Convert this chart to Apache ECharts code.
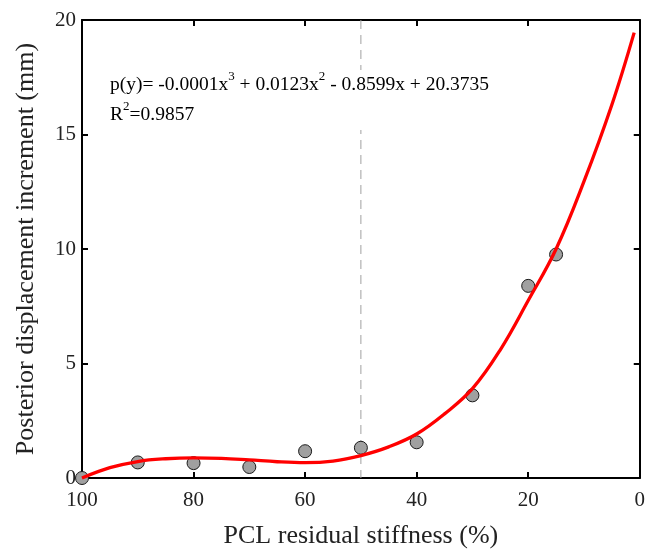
<!DOCTYPE html>
<html><head><meta charset="utf-8">
<script src="https://cdn.jsdelivr.net/npm/echarts@6/dist/echarts.min.js"></script>
<style>html,body{margin:0;padding:0;background:#fff}#c{width:648px;height:554px}</style>
</head><body><div id="c"></div>
<script>
// ---- data ----
const stiffness    = [100, 90, 80, 70, 60, 50, 40, 30, 20, 15];
const displacement = [0.0, 0.68, 0.65, 0.48, 1.17, 1.32, 1.56, 3.61, 8.39, 9.76];
const fitX = [100, 95, 90, 85, 80, 75, 70, 65, 60, 55, 50, 45, 40, 35, 30, 25, 20, 15, 10, 5, 1];
const fitY = [0.00, 0.45, 0.72, 0.84, 0.88, 0.86, 0.79, 0.71, 0.67, 0.74, 0.98, 1.36, 1.92, 2.80, 3.90, 5.60, 7.75, 10.0, 12.95, 16.3, 19.45];
const refX = [50, 50];
const refY = [20, 0];
const xName = 'PCL residual stiffness (%)';
const yName = 'Posterior displacement increment (mm)';
const eqText = '{n|p(y)= -0.0001x}{s|3}{n| + 0.0123x}{s|2}{n| - 0.8599x + 20.3735}\n{n|R}{s|2}{n|=0.9857}';

const FONT = 'Liberation Serif';
const TXT = '#222';
const zip = (a, b) => a.map((v, i) => [v, b[i]]);

const axLine = {show: true, onZero: false, lineStyle: {color: '#000', width: 2}};
const axTick = {show: true, inside: true, length: 6, lineStyle: {color: '#000', width: 2}};

const chart = echarts.init(document.getElementById('c'), null, {renderer: 'canvas'});
chart.setOption({
  animation: false,
  backgroundColor: '#fff',
  grid: {left: 82, right: 7, top: 20, bottom: 73},
  xAxis: [
    {type: 'value', min: 0, max: 100, interval: 20, inverse: true, position: 'bottom',
     name: xName, nameLocation: 'middle', nameGap: 45,
     nameTextStyle: {fontFamily: FONT, fontSize: 26, color: TXT},
     axisLine: axLine, axisTick: axTick,
     axisLabel: {margin: 12, fontFamily: FONT, fontSize: 21, color: TXT},
     splitLine: {show: false}},
    {type: 'value', min: 0, max: 100, interval: 20, inverse: true, position: 'top',
     axisLine: axLine, axisTick: axTick, axisLabel: {show: false}, splitLine: {show: false}}
  ],
  yAxis: [
    {type: 'value', min: 0, max: 20, interval: 5, position: 'left',
     name: yName, nameLocation: 'middle', nameGap: 43,
     nameTextStyle: {fontFamily: FONT, fontSize: 26, color: TXT},
     axisLine: axLine, axisTick: axTick,
     axisLabel: {margin: 6, fontFamily: FONT, fontSize: 21, color: TXT},
     splitLine: {show: false}},
    {type: 'value', min: 0, max: 20, interval: 5, position: 'right',
     axisLine: axLine, axisTick: axTick, axisLabel: {show: false}, splitLine: {show: false}}
  ],
  series: [
    {type: 'line', data: zip(refX, refY), symbol: 'none', z: 1,
     lineStyle: {color: '#a0a0a0', width: 1, type: [9, 6]}},
    {type: 'scatter', data: zip(stiffness, displacement), symbol: 'circle', symbolSize: 13,
     clip: false, z: 2,
     itemStyle: {color: '#a0a0a0', borderColor: '#1a1a1a', borderWidth: 1, opacity: 1}},
    {type: 'line', data: zip(fitX, fitY), symbol: 'none', smooth: 0.4, z: 3, clip: false,
     lineStyle: {color: '#ff0000', width: 3.3}}
  ],
  graphic: [
    {type: 'text', left: 110, top: 70, z: 100,
     style: {
       text: eqText,
       backgroundColor: '#fff',
       rich: {
         n: {fontFamily: FONT, fontSize: 19.5, color: TXT, lineHeight: 30},
         s: {fontFamily: FONT, fontSize: 13, color: TXT, padding: [0, 0, 16, 0]}
       }
     }}
  ]
});
</script></body></html>
